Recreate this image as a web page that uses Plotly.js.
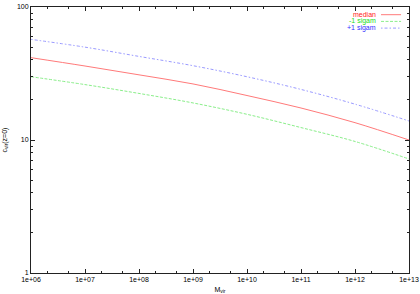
<!DOCTYPE html>
<html>
<head>
<meta charset="utf-8">
<script src="https://cdn.plot.ly/plotly-3.0.1.min.js"></script>
<style>html,body{margin:0;padding:0;background:#fff}#chart{width:420px;height:294px}</style>
</head>
<body>
<div id="chart"></div>
<script>
// Data
const mvir = [1e6, 1e7, 1e8, 1e9, 1e10, 1e11, 1e12, 1e13];
const median = [41.6, 36.0, 30.9, 26.4, 21.6, 17.4, 13.5, 10.0];
const minus1 = [29.9, 26.1, 22.4, 19.0, 15.6, 12.4, 9.75, 7.2];
const plus1 = [57.1, 49.9, 42.5, 36.2, 29.9, 24.0, 18.6, 13.9];
const seriesNames = ["median", "-1 sigam", "+1 sigam"];
const xTickVals = [1e6, 1e7, 1e8, 1e9, 1e10, 1e11, 1e12, 1e13];
const xTickText = ["1e+06", "1e+07", "1e+08", "1e+09", "1e+10", "1e+11", "1e+12", "1e+13"];
const yTickVals = [1, 10, 100];
const yTickText = ["1", "10", "100"];

const lineColors = ["#ff7a7a", "#8aee8a", "#9a9aff"];
const textColors = ["#ff2020", "#20dd20", "#3030ff"];
const dashes = ["solid", "3px,1.5px", "1.5px,2px,3px,2px"];
const ys = [median, minus1, plus1];

const traces = ys.map((y, i) => ({
  x: mvir, y: y, type: "scatter", mode: "lines", name: seriesNames[i],
  line: {color: lineColors[i], width: 1, dash: dashes[i], shape: "spline", smoothing: 1},
  showlegend: false
}));

const font = {family: "Liberation Sans, Arial, sans-serif", size: 7, color: "#000"};
const axisCommon = {
  type: "log", showgrid: false, zeroline: false, showline: true, linecolor: "#222", linewidth: 1,
  mirror: "allticks", ticks: "inside", ticklen: 4, tickcolor: "#222", tickfont: font,
  automargin: false
};

// legend built from annotations + shapes (symbol on right, like gnuplot)
const annotations = [];
const shapes = [];
seriesNames.forEach((n, i) => {
  const yp = 1 - (7.7 + i * 6.7) / 266;
  annotations.push({xref: "paper", yref: "paper", x: 0.918, y: yp, xanchor: "right", yanchor: "middle",
    text: n, showarrow: false, font: {family: font.family, size: 7, color: textColors[i]}});
  shapes.push({type: "line", xref: "paper", yref: "paper", x0: 0.926, x1: 0.979, y0: yp, y1: yp,
    line: {color: lineColors[i], width: 1, dash: dashes[i]}});
});

const layout = {
  width: 420, height: 294,
  margin: {l: 31, r: 11, t: 7, b: 21},
  paper_bgcolor: "#fff", plot_bgcolor: "#fff",
  font: font,
  xaxis: Object.assign({}, axisCommon, {
    range: [6, 13], tickmode: "array", tickvals: xTickVals, ticktext: xTickText,
    minor: {ticks: "inside", ticklen: 2, tickcolor: "#222", dtick: "D2", showgrid: false},
    title: {text: "M<sub>vir</sub>", font: {family: font.family, size: 7}, standoff: 4}
  }),
  yaxis: Object.assign({}, axisCommon, {
    range: [0, 2], tickmode: "array", tickvals: yTickVals, ticktext: yTickText,
    minor: {ticks: "inside", ticklen: 2, tickcolor: "#222", dtick: "D1", showgrid: false},
    title: {text: "c<sub>vir</sub>(z=0)", font: {family: font.family, size: 7}, standoff: 8}
  }),
  annotations: annotations,
  shapes: shapes,
  showlegend: false
};

Plotly.newPlot("chart", traces, layout, {staticPlot: true, displayModeBar: false});
</script>
</body>
</html>
